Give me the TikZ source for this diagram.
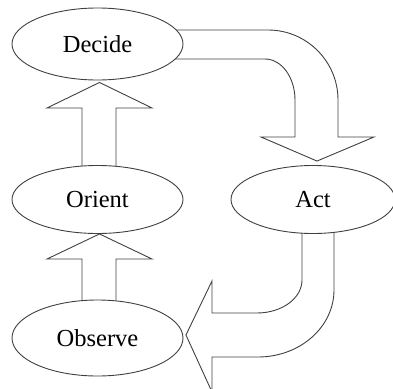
\documentclass[tikz,border=0pt]{standalone}
\usepackage{fontspec}
\setmainfont{Liberation Serif}
\usetikzlibrary{shapes.geometric,backgrounds,calc}
\definecolor{linegray}{gray}{0.25}
\begin{document}
\begin{tikzpicture}[x=1pt,y=-1pt,
  phase/.style={ellipse,draw=linegray,fill=white,line width=0.9pt,inner sep=0pt,
    font=\fontsize{24.5}{28}\selectfont},
  blockarrow/.style={draw=linegray,line width=0.9pt,line join=miter}]
\useasboundingbox (0,0) rectangle (393,388);

% the four phases of the loop
\node[phase,minimum width=171pt,minimum height=72pt] (decide)  at (97.5,44)   {Decide};
\node[phase,minimum width=171pt,minimum height=68pt] (orient)  at (97.5,199.5) {Orient};
\node[phase,minimum width=164pt,minimum height=68pt] (act)     at (313,199.5) {Act};
\node[phase,minimum width=171pt,minimum height=76pt] (observe) at (97.5,338)  {Observe};

\begin{pgfonlayer}{background}
% Orient -> Decide
\draw[blockarrow]
  ($(orient.north)+(-15.5,2)$) -- (82,108) -- (47,108) -- ($(decide.south)+(2,2)$)
  -- (152,108) -- (116,108) -- ($(orient.north)+(18.5,2)$);
% Observe -> Orient
\draw[blockarrow]
  ($(observe.north)+(-15.5,2)$) -- (82,259) -- (47,259) -- ($(orient.south)+(2,0)$)
  -- (152,259) -- (116,259) -- ($(observe.north)+(18.5,2)$);
% Decide -> Act, bending round the top right
\draw[blockarrow]
  ($(decide.center)+(60,-14)$) -- (268,30)
  arc[start angle=-90,end angle=0,x radius=70,y radius=70]
  -- (338,137) -- (374,137) -- ($(act.north)+(4,-4)$) -- (261,137) -- (295,137)
  -- (295,100) arc[start angle=0,end angle=-90,x radius=30,y radius=41]
  -- ($(decide.center)+(60,15)$);
% Act -> Observe, bending round the bottom right
\draw[blockarrow]
  ($(act.south)+(-11,-6)$) -- (302,280)
  arc[start angle=0,end angle=90,x radius=45,y radius=33]
  -- (212,313) -- (212,281) -- ($(observe.east)+(2.5,-3)$) -- (212,392) -- (212,357)
  -- (258,357) arc[start angle=90,end angle=0,x radius=76,y radius=67]
  -- ($(act.south)+(21,-6)$);
\end{pgfonlayer}
\end{tikzpicture}
\end{document}
